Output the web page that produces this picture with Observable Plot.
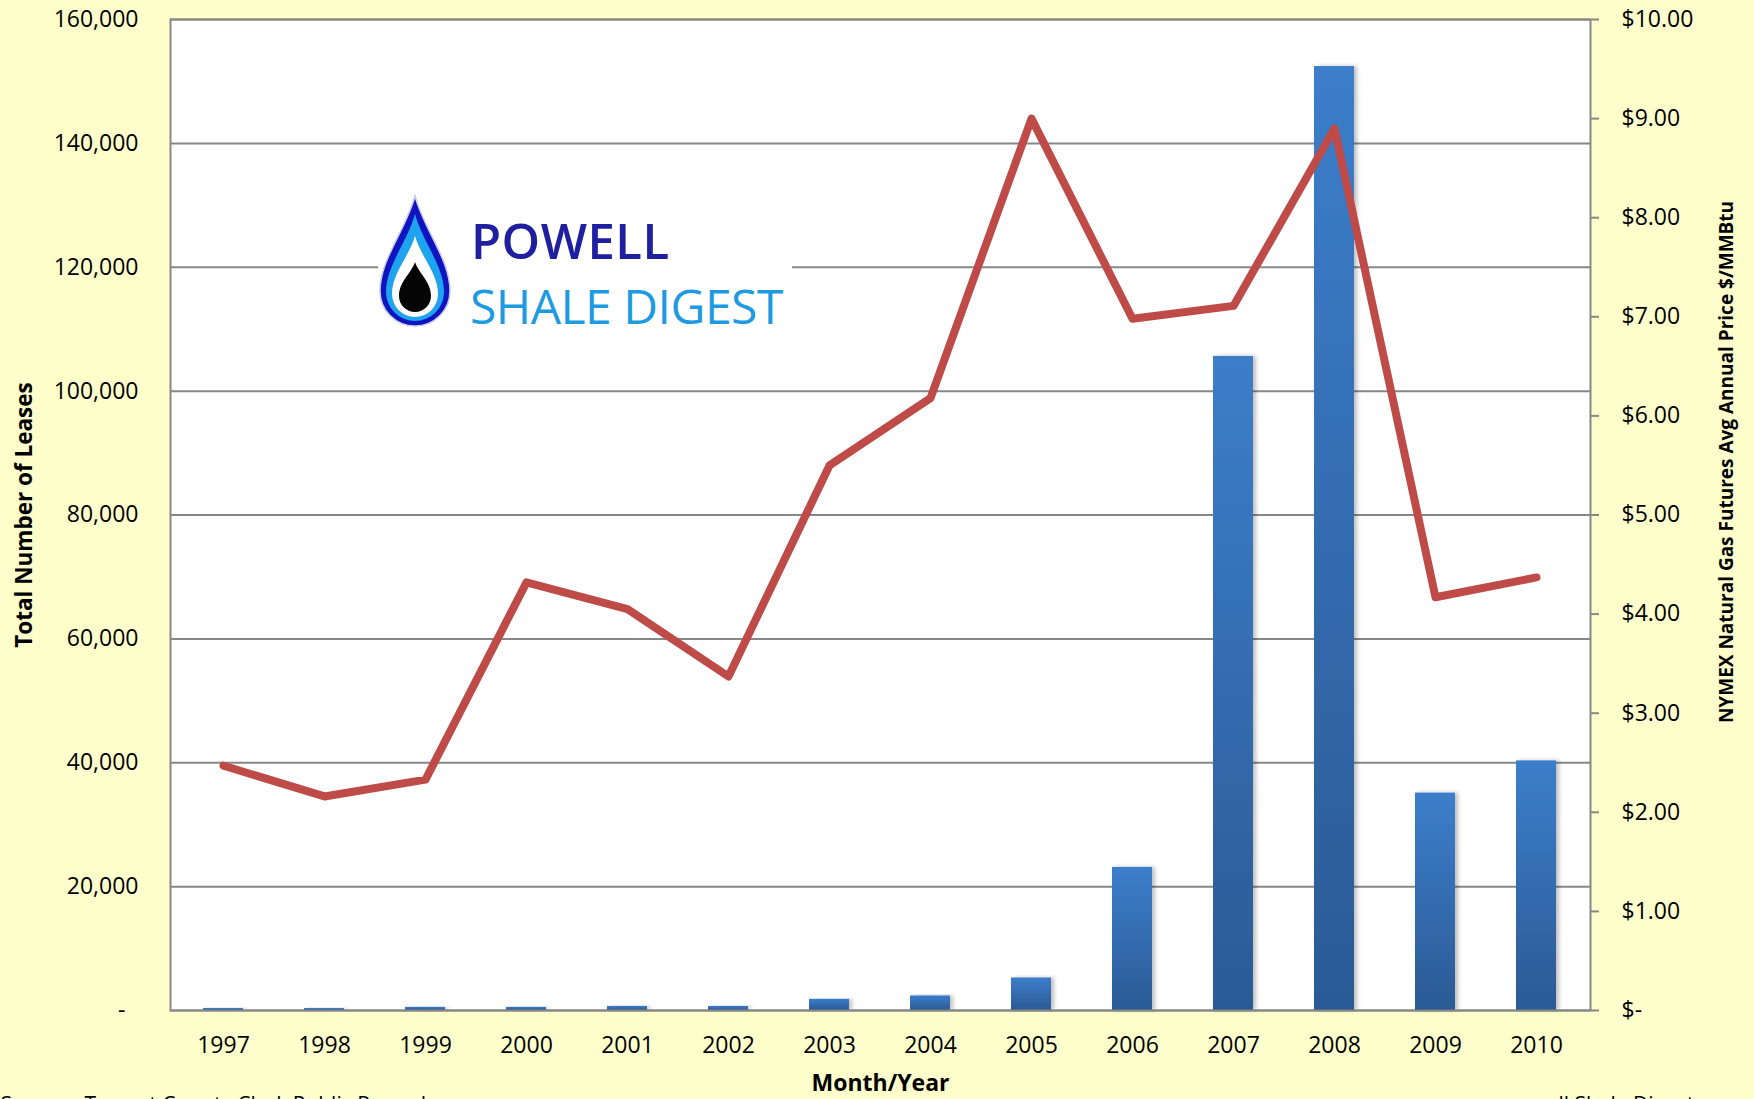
<!DOCTYPE html>
<html>
<head>
<meta charset="utf-8">
<script src="https://cdn.jsdelivr.net/npm/d3@7"></script>
<script src="https://cdn.jsdelivr.net/npm/@observablehq/plot@0.6"></script>
<style>
  html, body { margin: 0; padding: 0; background: #ffffcc; overflow: hidden; }
  #chart svg { display: block; }
</style>
</head>
<body>
<div id="chart"></div>
<script>
// ---- data ----
const years = ["1997","1998","1999","2000","2001","2002","2003","2004","2005","2006","2007","2008","2009","2010"];
const leases = [320, 320, 500, 500, 650, 650, 1800, 2350, 5250, 23100, 105600, 152400, 35100, 40300];
const prices = [2.47, 2.16, 2.33, 4.32, 4.05, 3.37, 5.50, 6.18, 9.00, 6.98, 7.11, 8.90, 4.17, 4.37];
const leaseTicks = [0, 20000, 40000, 60000, 80000, 100000, 120000, 140000, 160000];
const priceTicks = [0, 1, 2, 3, 4, 5, 6, 7, 8, 9, 10];
const leftTitle = "Total Number of Leases";
const rightTitle = "NYMEX Natural Gas Futures Avg Annual Price $/MMBtu";
const xTitle = "Month/Year";
const sourceText = "Source:  Tarrant County Clerk Public Records";
const creditText = "www.powell Shale Digest.com   © 2011";

const data = years.map((y, i) => ({year: y, leases: leases[i], price: prices[i]}));
const priceToLease = 160000 / 10; // right axis $10 aligns with 160,000

const font = "'Open Sans', 'Noto Sans', sans-serif";
const gray = "#878787";

const plot = Plot.plot({
  width: 1754,
  height: 1099,
  marginLeft: 170,
  marginRight: 164,
  marginTop: 19,
  marginBottom: 89,
  style: {background: "#ffffcc", fontFamily: font, fontSize: "23px", color: "#000"},
  x: {type: "band", domain: years, paddingInner: 0.6, paddingOuter: 0.3, align: 0.5},
  y: {domain: [0, 160000]},
  marks: [
    Plot.frame({fill: "white", stroke: null}),
    Plot.gridY(leaseTicks, {stroke: gray, strokeOpacity: 1, strokeWidth: 2}),
    Plot.barY(data, {x: "year", y: "leases", fill: "url(#barGrad)"}),
    Plot.lineY(data, {x: "year", y: d => d.price * priceToLease, stroke: "#be4b48", strokeWidth: 8, strokeLinejoin: "round", strokeLinecap: "round"}),
    Plot.frame({stroke: gray, strokeWidth: 2}),
    Plot.axisY({anchor: "left", ticks: leaseTicks, tickSize: 0, tickPadding: 32, label: null, fontSize: 23,
      tickFormat: d => d === 0 ? "-\u2007" : d3.format(",")(d)}),
    Plot.axisY({anchor: "right", ticks: priceTicks.map(p => p * priceToLease), tickSize: 8, tickPadding: 23, label: null, fontSize: 23,
      stroke: gray, strokeWidth: 2,
      tickFormat: d => d === 0 ? "$-" : "$" + (d / priceToLease).toFixed(2)}),
    Plot.axisX({tickSize: 0, tickPadding: 26, label: null, fontSize: 23}),
    Plot.text([leftTitle], {frameAnchor: "left", dx: -146, rotate: -90, textAnchor: "middle", fontWeight: "bold", fontSize: 22.5, text: d => d}),
    Plot.text([rightTitle], {frameAnchor: "right", dx: 136, dy: -53, rotate: -90, textAnchor: "middle", fontWeight: "bold", fontSize: 19, text: d => d}),
    Plot.text([xTitle], {frameAnchor: "bottom", dy: 80, textAnchor: "middle", fontWeight: "bold", fontSize: 23, text: d => d}),
    Plot.text([sourceText], {frameAnchor: "bottom-left", dx: -170, dy: 87, lineAnchor: "top", textAnchor: "start", fontSize: 21, text: d => d}),
    Plot.text([creditText], {frameAnchor: "bottom-right", dx: -140, dy: 87, lineAnchor: "top", textAnchor: "start", fontSize: 21, text: d => d})
  ]
});

document.getElementById("chart").appendChild(plot);

// ---- decorations: gradient, bar shadow, logo ----
const svg = d3.select(plot);
const defs = svg.insert("defs", ":first-child");
const grad = defs.append("linearGradient").attr("id", "barGrad").attr("x1", 0).attr("y1", 0).attr("x2", 0).attr("y2", 1);
grad.append("stop").attr("offset", "0%").attr("stop-color", "#3c7ecb");
grad.append("stop").attr("offset", "100%").attr("stop-color", "#2b5a95");
const filt = defs.append("filter").attr("id", "barShadow").attr("x", "-20%").attr("y", "-5%").attr("width", "150%").attr("height", "110%");
filt.append("feDropShadow").attr("dx", 3).attr("dy", 0).attr("stdDeviation", 2).attr("flood-color", "#000").attr("flood-opacity", 0.25);
svg.selectAll("rect[fill='url(#barGrad)'], g[fill='url(#barGrad)'] rect").attr("filter", "url(#barShadow)");

// logo
function dropPath(cx, top, bottom, r) {
  const cy = bottom - r;
  const h = cy - top;
  return `M${cx},${top} C${cx + r * 0.25},${top + h * 0.35} ${cx + r},${cy - r * 0.9} ${cx + r},${cy}
          A${r},${r} 0 0 1 ${cx - r},${cy}
          C${cx - r},${cy - r * 0.9} ${cx - r * 0.25},${top + h * 0.35} ${cx},${top} Z`;
}
const logo = svg.append("g").attr("class", "logo").attr("text-anchor", "start");
logo.append("rect").attr("x", 378).attr("y", 190).attr("width", 414).attr("height", 146).attr("fill", "white");
logo.append("path").attr("d", dropPath(415, 196, 326, 35)).attr("fill", "#0d14c0").attr("stroke", "#c8c8e8").attr("stroke-width", 1.5);
logo.append("path").attr("d", dropPath(415, 214, 321, 29)).attr("fill", "#1ea4ee");
logo.append("path").attr("d", dropPath(415, 236, 317, 23)).attr("fill", "#ffffff");
logo.append("path").attr("d", dropPath(415, 262, 312, 16)).attr("fill", "#050505");
logo.append("text").attr("x", 471).attr("y", 259).attr("text-anchor", "start").attr("font-family", font).attr("font-size", 49)
  .attr("font-weight", 600).attr("fill", "#1f20a0").attr("letter-spacing", 0.5).text("POWELL");
logo.append("text").attr("x", 470).attr("y", 324).attr("text-anchor", "start").attr("font-family", font).attr("font-size", 48)
  .attr("font-weight", 500).attr("fill", "#1e9be0").attr("letter-spacing", -0.5).text("SHALE DIGEST");
</script>
</body>
</html>
